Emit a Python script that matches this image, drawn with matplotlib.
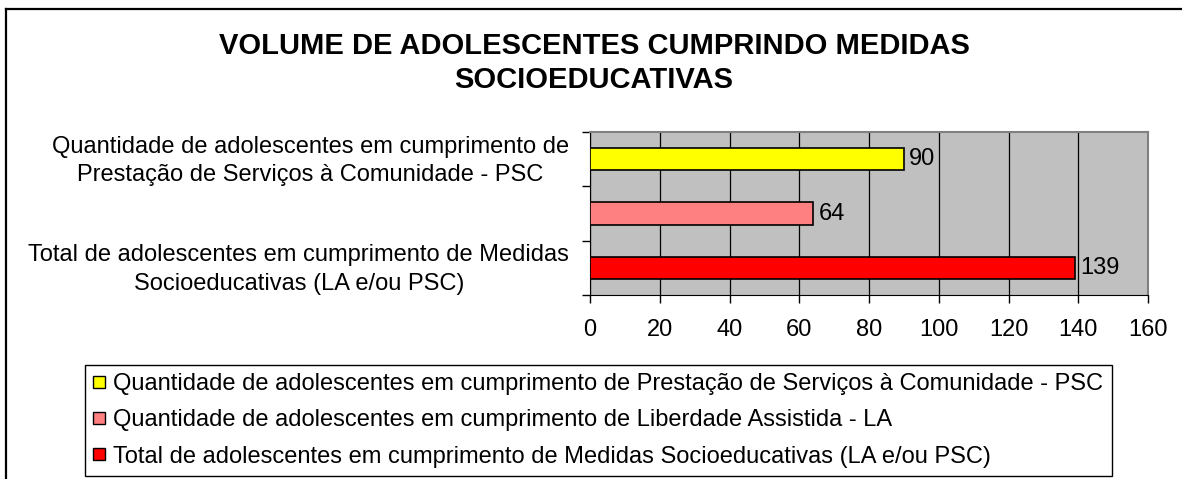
import matplotlib.pyplot as plt
from matplotlib.lines import Line2D
from matplotlib.transforms import ScaledTranslation

# dados
categorias = ['Quantidade de adolescentes em cumprimento de\nPrestação de Serviços à Comunidade - PSC',
              '',
              'Total de adolescentes em cumprimento de Medidas\nSocioeducativas (LA e/ou PSC)']
legendas = ['Quantidade de adolescentes em cumprimento de Prestação de Serviços à Comunidade - PSC',
            'Quantidade de adolescentes em cumprimento de Liberdade Assistida - LA',
            'Total de adolescentes em cumprimento de Medidas Socioeducativas (LA e/ou PSC)']
valores = [90, 64, 139]
cores = ['#FFFF00', '#FF8080', '#FF0000']
xticks = [0, 20, 40, 60, 80, 100, 120, 140, 160]

plt.rcParams['font.family'] = ['Liberation Sans', 'DejaVu Sans']

W, H = 1182, 479
fig = plt.figure(figsize=(W / 100, H / 100), dpi=100)
ax = fig.add_axes([590 / W, 1 - 295 / H, (1148 - 590) / W, (295 - 132) / H])

pos = list(range(len(valores)))
ax.barh(pos, valores, height=0.41, color=cores, edgecolor='black', linewidth=1.2, zorder=3)
for p, v in zip(pos, valores):
    ax.text(v + 1.5, p, str(v), va='center', ha='left', fontsize=17, zorder=4)

ax.set_xlim(0, 160)
ax.set_ylim(2.5, -0.5)
ax.set_facecolor('#C0C0C0')
ax.set_xticks(xticks)
ax.set_xticklabels([str(t) for t in xticks], fontsize=17)
ax.tick_params(axis='x', length=6, width=1, pad=11, color='black')
ax.grid(axis='x', color='black', linewidth=0.9, zorder=1)

# rótulos das categorias no centro, marcas nas divisões
ax.set_yticks(pos)
ax.set_yticklabels(categorias, fontsize=17, multialignment='center', linespacing=1.4)
ax.tick_params(axis='y', which='major', length=0, pad=15)
ax.set_yticks([-0.5, 0.5, 1.5, 2.5], minor=True)
ax.tick_params(axis='y', which='minor', length=6, width=1, color='black')
sobe = ScaledTranslation(0, 4 / 100, fig.dpi_scale_trans)
for lab in ax.get_yticklabels():
    lab.set_transform(lab.get_transform() + sobe)

for lado in ['top', 'right']:
    ax.spines[lado].set_color('#808080')
    ax.spines[lado].set_linewidth(1.5)
ax.spines['left'].set_color('black')
ax.spines['bottom'].set_color('black')

fig.text(594 / W, 1 - 46 / H, 'VOLUME DE ADOLESCENTES CUMPRINDO MEDIDAS',
         ha='center', va='center', fontsize=21, fontweight='bold')
fig.text(594 / W, 1 - 80 / H, 'SOCIOEDUCATIVAS',
         ha='center', va='center', fontsize=21, fontweight='bold')

handles = [Line2D([], [], marker='s', linestyle='none', markersize=8.2,
                  markerfacecolor=c, markeredgecolor='black', markeredgewidth=1)
           for c in cores]
leg = fig.legend(handles, legendas, loc='upper left',
                 bbox_to_anchor=(85 / W, 1 - 365 / H), fontsize=17,
                 fancybox=False, edgecolor='black', framealpha=1,
                 handlelength=0.45, handletextpad=0.4,
                 labelspacing=0.6, borderpad=0.35, borderaxespad=0)
leg.get_frame().set_linewidth(1)

# moldura da figura
fig.add_artist(Line2D([6 / W, 6 / W], [0, 1 - 9 / H], color='black', linewidth=1.6))
fig.add_artist(Line2D([6 / W, 1], [1 - 9 / H, 1 - 9 / H], color='black', linewidth=1.6))

fig.savefig('out.png', dpi=100)
